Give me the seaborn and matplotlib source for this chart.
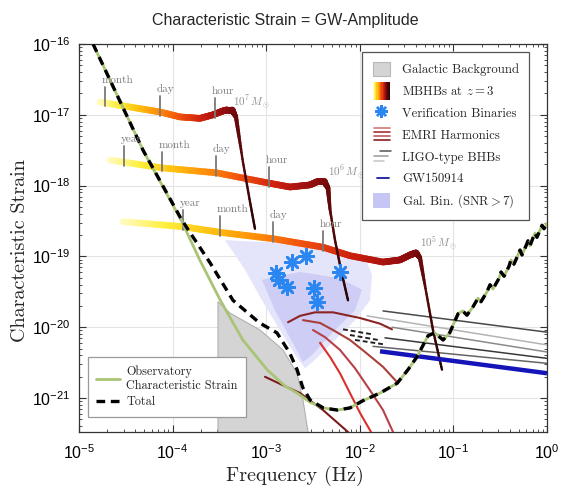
import numpy as np
import pandas as pd
import matplotlib
matplotlib.use("Agg")
import matplotlib.pyplot as plt
import seaborn as sns
from matplotlib.collections import LineCollection
from matplotlib.legend_handler import HandlerBase
from matplotlib.lines import Line2D
from matplotlib.patches import Patch, Rectangle
from matplotlib.colors import LinearSegmentedColormap

# ---------------- data (log10 frequency [Hz], log10 characteristic strain) -------------
sens_logf = [-4.85, -4.316, -3.90, -3.71, -3.49, -3.25, -2.99, -2.80, -2.67, -2.53, -2.39, -2.24,
             -2.105, -1.97, -1.784, -1.60, -1.485, -1.39, -1.27, -1.20, -1.11, -1.04, -0.95, -0.90,
             -0.855, -0.79, -0.737, -0.705, -0.641, -0.609, -0.577, -0.513, -0.491, -0.459, -0.406,
             -0.385, -0.353, -0.310, -0.288, -0.267, -0.224, -0.203, -0.182, -0.150, -0.128, -0.107,
             -0.075, -0.053, -0.032, 0.0]
sens_logh = [-16.00, -17.50, -18.51, -19.05, -19.62, -20.18, -20.60, -20.83, -20.93, -21.06, -21.14,
             -21.17, -21.14, -21.04, -20.93, -20.79, -20.60, -20.42, -20.12, -20.08, -20.18, -20.08,
             -19.81, -19.77, -19.83, -19.71, -19.59, -19.64, -19.50, -19.40, -19.46, -19.31, -19.22,
             -19.28, -19.14, -19.05, -19.11, -18.98, -18.91, -18.98, -18.85, -18.78, -18.85, -18.74,
             -18.67, -18.73, -18.63, -18.56, -18.61, -18.53]

total_logf = [-4.85, -4.316, -3.90, -3.60, -3.355, -3.07, -2.885, -2.75, -2.67, -2.61, -2.53, -2.39] + sens_logf[11:]
total_logh = [-16.00, -17.50, -18.49, -19.09, -19.62, -19.94, -20.08, -20.36, -20.60, -20.85, -21.03, -21.14] + sens_logh[11:]

galbg_logf = [-3.515, -3.515, -3.387, -3.066, -2.821, -2.671, -2.607, -2.553, -2.553]
galbg_logh = [-21.60, -19.64, -19.80, -20.04, -20.32, -20.65, -21.03, -21.48, -21.60]

galbin_outer_logf = [-3.44, -2.853, -2.318, -1.944, -1.870, -1.891, -2.051, -2.265, -2.479, -2.585, -2.692, -2.853, -3.045, -3.226]
galbin_outer_logh = [-18.77, -18.81, -18.91, -19.02, -19.26, -19.62, -19.90, -20.18, -20.46, -20.58, -20.39, -20.04, -19.62, -19.19]
galbin_inner_logf = [-3.045, -2.639, -2.212, -1.976, -2.051, -2.265, -2.511, -2.607, -2.746, -2.906]
galbin_inner_logh = [-19.33, -19.22, -19.31, -19.47, -19.76, -20.04, -20.39, -20.49, -20.15, -19.76]

track1_logf = [-4.776, -4.455, -4.135, -3.921, -3.707, -3.568, -3.472, -3.419, -3.365, -3.323, -3.248, -3.173, -3.120]
track1_logh = [-16.82, -16.89, -16.96, -17.03, -17.05, -17.00, -16.95, -16.93, -16.93, -17.03, -17.67, -18.23, -18.61]
track2_logf = [-4.669, -4.113, -3.526, -2.991, -2.746, -2.532, -2.447, -2.382, -2.340, -2.318, -2.265, -2.201, -2.126]
track2_logh = [-17.64, -17.75, -17.82, -17.96, -18.02, -17.99, -17.94, -17.94, -18.03, -18.34, -18.77, -19.19, -19.62]
track3_logf = [-4.530, -3.889, -3.494, -2.927, -2.393, -2.105, -1.752, -1.571, -1.464, -1.400, -1.357, -1.282, -1.218, -1.122]
track3_logh = [-18.51, -18.58, -18.66, -18.75, -18.87, -18.99, -19.08, -19.05, -18.98, -18.95, -19.02, -19.57, -20.04, -20.60]
track_peak_index = [8, 7, 9]
track_masses = ["$10^7\\,M_\\odot$", "$10^6\\,M_\\odot$", "$10^5\\,M_\\odot$"]
track_mass_logf = [-3.355, -2.34, -1.357]
track_mass_logh = [-16.82, -17.82, -18.82]

track1_tick_logf = [-4.722, -4.135, -3.547]
track1_tick_labels = ["month", "day", "hour"]
track2_tick_logf = [-4.519, -4.113, -3.536, -2.970]
track2_tick_labels = ["year", "month", "day", "hour"]
track3_tick_logf = [-3.889, -3.494, -2.927, -2.393]
track3_tick_labels = ["year", "month", "day", "hour"]

vb_logf = [-2.724, -2.575, -2.895, -2.863, -2.778, -2.489, -2.457, -2.212]
vb_logh = [-19.08, -18.99, -19.23, -19.33, -19.43, -19.45, -19.64, -19.22]

emri_logf = [
    [-2.767, -2.639, -2.479, -2.286, -1.998, -1.784, -1.656],
    [-2.607, -2.425, -2.286, -2.105, -1.944, -1.752, -1.592],
    [-2.500, -2.372, -2.212, -2.051, -1.891, -1.752, -1.645, -1.62],
    [-2.425, -2.318, -2.212, -2.105, -1.998, -1.880, -1.86],
    [-3.013, -2.821, -2.639, -2.393, -2.126, -2.09],
]
emri_logh = [
    [-19.93, -19.84, -19.79, -19.79, -19.87, -19.95, -20.03],
    [-19.90, -19.94, -20.04, -20.18, -20.35, -20.56, -20.79],
    [-20.04, -20.14, -20.32, -20.58, -20.89, -21.17, -21.48, -21.55],
    [-20.22, -20.42, -20.65, -20.93, -21.21, -21.48, -21.55],
    [-20.70, -20.82, -20.93, -21.17, -21.48, -21.55],
]
emri_colors = ["#8c2424", "#a8403a", "#b8404a", "#d9312b", "#7b1d1d"]

ligo_logf = [[-1.752, 0.0], [-1.923, 0.0], [-1.656, 0.0], [-1.731, 0.0], [-1.859, 0.0]]
ligo_logh = [[-19.77, -20.07], [-19.84, -20.25], [-20.00, -20.35], [-20.15, -20.44], [-20.27, -20.51]]
ligo_colors = ["#4a4a4a", "#b4b4b4", "#8a8a8a", "#3a3a3a", "#666666"]
ligo_early_logf = [[-2.179, -1.870], [-2.105, -1.806], [-2.051, -1.752]]
ligo_early_logh = [[-20.03, -20.10], [-20.11, -20.18], [-20.18, -20.24]]

gw150914_logf = [-1.784, 0.0]
gw150914_logh = [-20.34, -20.65]

y_tick_exp = [-21, -20, -19, -18, -17, -16]
x_tick_exp = [-5, -4, -3, -2, -1, 0]

# ---------------- style ----------------
sns.set_theme(style="ticks")
plt.rcParams["font.family"] = ["Liberation Sans", "DejaVu Sans"]
plt.rcParams["mathtext.fontset"] = "custom"
plt.rcParams["mathtext.rm"] = "Liberation Sans"
plt.rcParams["mathtext.it"] = "Liberation Sans:italic"
plt.rcParams["mathtext.bf"] = "Liberation Sans:bold"
plt.rcParams["axes.unicode_minus"] = False
SERIF = "cmr10"

mbhb_cmap = LinearSegmentedColormap.from_list(
    "mbhb", ["#fffbc4", "#ffef3a", "#ffbf10", "#ff8a08", "#f0500e", "#cf220e",
             "#9c0f0f", "#5e0909", "#2a0404"])

fig = plt.figure(figsize=(5.71, 4.93), dpi=100)
ax = fig.add_axes([79 / 571, 1 - 432 / 493, 468 / 571, 388 / 493])
ax.set_xscale("log")
ax.set_yscale("log")
ax.set_xlim(1e-5, 1.0)
ax.set_ylim(10 ** -21.48, 1e-16)
ax.grid(True, which="major", color="#e4e4e4", lw=0.8, zorder=0)
ax.set_axisbelow(True)

P = lambda a: 10.0 ** np.asarray(a, dtype=float)

# galactic background
ax.fill(P(galbg_logf), P(galbg_logh), facecolor="#d4d4d4", edgecolor="#b0b0b0", lw=0.8, zorder=1)

# resolvable galactic binaries cloud
ax.fill(P(galbin_outer_logf), P(galbin_outer_logh), facecolor="#e4e4fb", edgecolor="none", zorder=1.5)
ax.fill(P(galbin_inner_logf), P(galbin_inner_logh), facecolor="#cdcdf6", edgecolor="none", zorder=1.6)

# EMRI harmonics
for lf, lh, c in zip(emri_logf, emri_logh, emri_colors):
    sns.lineplot(x=P(lf), y=P(lh), ax=ax, color=c, lw=1.5, sort=False, estimator=None, zorder=3.5)

# LIGO-type BHBs
for lf, lh, c in zip(ligo_logf, ligo_logh, ligo_colors):
    ax.plot(P(lf), P(lh), color=c, lw=1.1, zorder=3)
for lf, lh in zip(ligo_early_logf, ligo_early_logh):
    ax.plot(P(lf), P(lh), color="#222222", lw=1.4, ls=(0, (2.5, 1.5)), zorder=3)
ax.plot(P(gw150914_logf), P(gw150914_logh), color="#1414b8", lw=3.2, solid_capstyle="butt", zorder=3.2)


def draw_track(lf, lh, peak, lw_insp=4.8, lw_drop=1.7, sub=14):
    lf = np.asarray(lf); lh = np.asarray(lh)
    segs, cols, lws = [], [], []
    span = lf[peak] - lf[0]
    n = len(lf)
    for i in range(n - 1):
        for k in range(sub):
            a0, a1 = k / sub, (k + 1) / sub
            x0 = lf[i] + (lf[i + 1] - lf[i]) * a0
            x1 = lf[i] + (lf[i + 1] - lf[i]) * a1
            y0 = lh[i] + (lh[i + 1] - lh[i]) * a0
            y1 = lh[i] + (lh[i + 1] - lh[i]) * a1
            segs.append([(10 ** x0, 10 ** y0), (10 ** x1, 10 ** y1)])
            if i < peak:
                t = 0.8 * ((x0 + x1) / 2 - lf[0]) / span
                w = lw_insp
            else:
                frac = (i - peak + (a0 + a1) / 2) / max(n - 1 - peak, 1)
                t = 0.8 + 0.2 * frac
                w = lw_drop + (lw_insp - lw_drop) * max(0.0, 1 - 2.2 * frac)
            cols.append(mbhb_cmap(min(t, 1.0)))
            lws.append(w)
    lc = LineCollection(segs, colors=cols, linewidths=lws, capstyle="round", zorder=3)
    ax.add_collection(lc)


tracks = [(track1_logf, track1_logh, track1_tick_logf, track1_tick_labels),
          (track2_logf, track2_logh, track2_tick_logf, track2_tick_labels),
          (track3_logf, track3_logh, track3_tick_logf, track3_tick_labels)]
for idx in [2, 1, 0]:
    lf, lh, tf, tl = tracks[idx]
    draw_track(lf, lh, track_peak_index[idx])
    pk = track_peak_index[idx]
    for f, lab in zip(tf, tl):
        yc = np.interp(f, lf[:pk + 1], lh[:pk + 1])
        ax.plot([10 ** f, 10 ** f], [10 ** (yc - 0.05), 10 ** (yc + 0.23)], color="#7a7a7a", lw=1.3, zorder=3.3)
        ax.annotate(lab, xy=(10 ** f, 10 ** (yc + 0.23)), xytext=(-2.4, 1.5), textcoords="offset points",
                    ha="left", va="bottom", fontsize=8, color="#7a7a7a", family=SERIF, zorder=6)
    ax.text(10 ** track_mass_logf[idx], 10 ** track_mass_logh[idx], track_masses[idx], fontsize=8,
            color="#909090", ha="left", va="center", math_fontfamily="cm", zorder=6)

# verification binaries
sns.scatterplot(x=P(vb_logf), y=P(vb_logh), ax=ax, marker=(8, 2, 0), s=110, color="#2a86f0",
                edgecolor="#2a86f0", linewidth=1.9, zorder=4, legend=False)

# sensitivity & total
sns.lineplot(x=P(sens_logf), y=P(sens_logh), ax=ax, color="#a8c474", lw=2.0, sort=False, estimator=None, zorder=5)
sns.lineplot(x=P(total_logf), y=P(total_logh), ax=ax, color="black", lw=2.4, sort=False, estimator=None, zorder=5.5)
ax.lines[-1].set_dashes((2.6, 1.7))

# ---------------- axes cosmetics ----------------
ax.set_xlim(1e-5, 1.0)
ax.set_ylim(10 ** -21.48, 1e-16)
ax.set_xticks(P(x_tick_exp))
ax.set_yticks(P(y_tick_exp))
ax.set_xticklabels([f"$10^{{{e}}}$" for e in x_tick_exp])
ax.set_yticklabels([f"$10^{{{e}}}$" for e in y_tick_exp])
ax.tick_params(which="both", direction="in", top=True, right=True, colors="#333333")
ax.tick_params(which="major", length=5, width=0.8, labelsize=11.5, labelcolor="black")
ax.tick_params(which="minor", length=2.5, width=0.6)
ax.tick_params(axis="x", which="major", pad=8)
ax.tick_params(axis="y", which="major", pad=6)
for s in ax.spines.values():
    s.set_color("#333333")
    s.set_linewidth(0.9)
ax.set_xlabel("")
ax.set_ylabel("")

fig.text(0.5, 1 - 20 / 493, "Characteristic Strain = GW-Amplitude", ha="center", va="center",
         fontsize=11.5, family="Liberation Sans")
fig.text(295 / 571, 1 - 476 / 493, "Frequency (Hz)", ha="center", va="center", fontsize=14.5, family=SERIF)
fig.text(20 / 571, 1 - 251 / 493, "Characteristic Strain", ha="center", va="center", rotation=90,
         fontsize=14.5, family=SERIF)


# ---------------- legends ----------------
class GradientHandle:
    pass


class MultiLineHandle:
    def __init__(self, specs):
        self.specs = specs


class HandlerGradient(HandlerBase):
    def create_artists(self, legend, orig_handle, xdescent, ydescent, width, height, fontsize, trans):
        arts = []
        n = 14
        h = height * 1.2
        y0 = -ydescent + (height - h) / 2
        for i in range(n):
            x0 = -xdescent + width * (0.05 + 0.9 * i / n)
            arts.append(Rectangle((x0, y0), width * 0.9 / n * 1.05, h, facecolor=mbhb_cmap(i / (n - 1)),
                                  edgecolor="none", transform=trans))
        return arts


class HandlerMultiLine(HandlerBase):
    def create_artists(self, legend, orig_handle, xdescent, ydescent, width, height, fontsize, trans):
        arts = []
        for yf, x0, x1, c, lw in orig_handle.specs:
            arts.append(Line2D([-xdescent + width * x0, -xdescent + width * x1],
                               [-ydescent + height * yf] * 2, color=c, lw=lw, transform=trans))
        return arts


class HandlerSquare(HandlerBase):
    def create_artists(self, legend, orig_handle, xdescent, ydescent, width, height, fontsize, trans):
        return [Rectangle((-xdescent + width * 0.05, -ydescent), width * 0.9, height,
                          facecolor=orig_handle.get_facecolor(), edgecolor=orig_handle.get_edgecolor(),
                          lw=0.8, transform=trans)]


h_galbg = Patch(facecolor="#d4d4d4", edgecolor="#b8b8b8")
h_mbhb = GradientHandle()
h_vb = Line2D([], [], marker=(8, 2, 0), ls="none", color="#2a86f0", markersize=9, mew=1.7)
h_emri = MultiLineHandle([(0.95, 0.1, 0.95, "#cf7a7a", 1.2), (0.68, 0.1, 0.95, "#a83232", 1.2),
                          (0.41, 0.1, 0.95, "#c05a5a", 1.2), (0.14, 0.1, 0.95, "#8a2020", 1.2)])
h_ligo = MultiLineHandle([(0.85, 0.45, 1.0, "#555555", 1.1), (0.5, 0.12, 0.85, "#999999", 1.1),
                          (0.15, 0.12, 0.65, "#c4c4c4", 1.1)])
h_gw = MultiLineHandle([(0.5, 0.3, 0.9, "#1a1a9a", 1.3)])
h_galbin = Patch(facecolor="#c6c6f5", edgecolor="none")

leg1 = ax.legend([h_galbg, h_mbhb, h_vb, h_emri, h_ligo, h_gw, h_galbin],
                 ["Galactic Background", "MBHBs at $z = 3$", "Verification Binaries", "EMRI Harmonics",
                  "LIGO-type BHBs", "GW150914", "Gal. Bin. (SNR$>$7)"],
                 handler_map={GradientHandle: HandlerGradient(), MultiLineHandle: HandlerMultiLine(),
                              Patch: HandlerSquare()},
                 loc="upper left", bbox_to_anchor=(0.605, 0.979), prop={"family": SERIF, "size": 9.2},
                 handlelength=1.5, handleheight=1.4, handletextpad=0.9, borderpad=0.75, labelspacing=0.55,
                 numpoints=1, fancybox=False, framealpha=1, edgecolor="#555555", borderaxespad=0)
leg1.get_frame().set_linewidth(0.9)
for t in leg1.get_texts():
    t.set_math_fontfamily("cm")
leg1.set_zorder(10)
ax.add_artist(leg1)

h_sens = Line2D([], [], color="#a8c474", lw=2.0)
h_tot = Line2D([], [], color="black", lw=2.4, dashes=(2.6, 1.7))
leg2 = ax.legend([h_sens, h_tot], ["Observatory\nCharacteristic Strain", "Total"],
                 loc="lower left", bbox_to_anchor=(0.019, 0.039), prop={"family": SERIF, "size": 8.8},
                 handlelength=1.9, handletextpad=0.55, borderpad=0.7, labelspacing=0.35,
                 fancybox=False, framealpha=1, edgecolor="#9a9a9a", borderaxespad=0)
leg2.get_frame().set_linewidth(0.9)
leg2.set_zorder(10)

fig.savefig("out.png", dpi=100)
